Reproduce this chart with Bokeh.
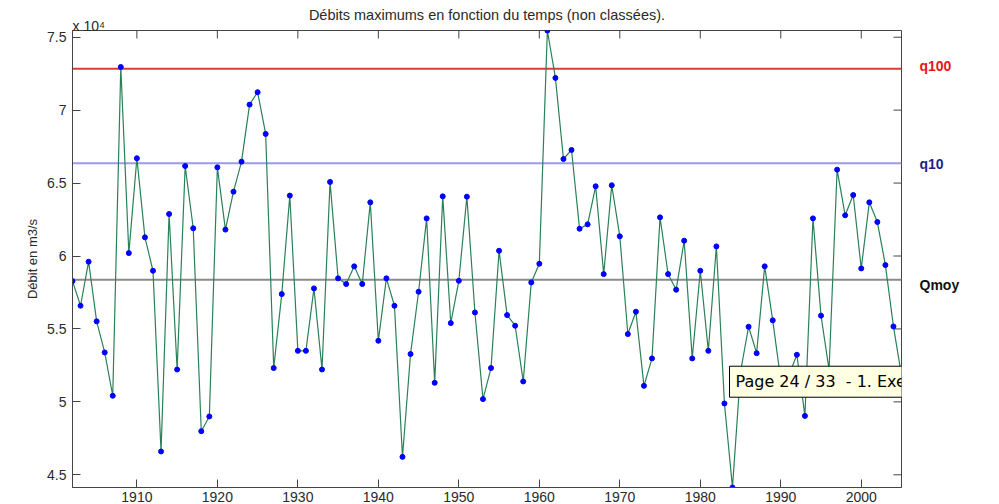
import math
from bokeh.plotting import figure
from bokeh.models import Range1d, FixedTicker, Span, Label, ColumnDataSource
from bokeh.embed import file_html
from bokeh.resources import INLINE

# ---------------- data ----------------
years = list(range(1902, 2006))
debits = [
    58280, 56590, 59610, 55520, 53390, 50420, 72960, 60200, 66700, 61280,  # 1902-1911
    58990, 46600, 62880, 52220, 66170, 61900, 47990, 49000, 66080, 61810,  # 1912-1921
    64410, 66470, 70380, 71230, 68370, 52320, 57390, 64140, 53500, 53500,  # 1922-1931
    57780, 52220, 65080, 58470, 58080, 59290, 58080, 63680, 54190, 58470,  # 1932-1941
    56590, 46230, 53280, 57550, 62580, 51310, 64090, 55400, 58300, 64070,  # 1942-1951
    56130, 50190, 52320, 60360, 55950, 55220, 51400, 58190, 59470, 75460,  # 1952-1961
    72210, 66650, 67270, 61870, 62170, 64780, 58760, 64850, 61350, 54650,  # 1962-1971
    56180, 51100, 52980, 62650, 58760, 57690, 61050, 52980, 58990, 53500,  # 1972-1981
    60660, 49890, 44130, 52060, 55150, 53340, 59290, 55590, 51500, 51800,  # 1982-1991
    53230, 49040, 62580, 55910, 52200, 65920, 62790, 64180, 59150, 63680,  # 1992-2001
    62330, 59380, 55170, 51800,                                            # 2002-2005
]
q100 = 72830
q10 = 66360
qmoy = 58375

x_ticks = [1910, 1920, 1930, 1940, 1950, 1960, 1970, 1980, 1990, 2000]
y_ticks = [45000, 50000, 55000, 60000, 65000, 70000, 75000]
y_tick_labels = ["4.5", "5", "5.5", "6", "6.5", "7", "7.5"]

title_text = "Débits maximums en fonction du temps (non classées)."
y_label_text = "Débit en m3/s"
exp_text = "x 10\u2074"
ref_names = ["q100", "q10", "Qmoy"]
ref_colors = ["#e8141c", "#1f1f8a", "#111111"]
tooltip_text = "Page 24 / 33\u00a0 - 1. Exercice 1: Rec"

# ---------------- styles ----------------
FONT = "Liberation Sans"
AX = "#444444"
TXT = "#2a2a2a"

xmin, xmax = min(years), max(years)
ymin, ymax = min(debits), max(debits)

p = figure(width=999, height=504, output_backend="svg", toolbar_location=None,
           x_range=Range1d(xmin, xmax), y_range=Range1d(ymin, ymax),
           min_border_left=72, min_border_right=98, min_border_top=30,
           min_border_bottom=0)
p.background_fill_color = "white"
p.border_fill_color = "white"
p.outline_line_color = AX
p.outline_line_width = 1
p.xgrid.visible = False
p.ygrid.visible = False

# title (negative standoff lets it share the line of the exponent)
p.title.text = title_text
p.title.align = "center"
p.title.vertical_align = "bottom"
p.title.standoff = -16
p.title.text_font = FONT
p.title.text_font_size = "14.5px"
p.title.text_font_style = "normal"
p.title.text_color = TXT

# bottom axis
xa = p.xaxis[0]
xa.ticker = FixedTicker(ticks=x_ticks)
xa.major_label_text_font = FONT
xa.major_label_text_font_size = "14px"
xa.major_label_text_color = TXT
xa.major_label_standoff = 4
xa.major_tick_in = 8
xa.major_tick_out = 0
xa.minor_tick_in = 0
xa.minor_tick_out = 0
xa.axis_line_color = AX
xa.major_tick_line_color = AX

# left axis
ya = p.yaxis[0]
ya.ticker = FixedTicker(ticks=y_ticks)
ya.major_label_overrides = {t: s for t, s in zip(y_ticks, y_tick_labels)}
ya.major_label_text_font = FONT
ya.major_label_text_font_size = "14px"
ya.major_label_text_color = TXT
ya.major_label_standoff = 6
ya.major_tick_in = 8
ya.major_tick_out = 0
ya.minor_tick_in = 0
ya.minor_tick_out = 0
ya.axis_line_color = AX
ya.major_tick_line_color = AX
ya.axis_label = y_label_text
ya.axis_label_text_font = FONT
ya.axis_label_text_font_size = "13px"
ya.axis_label_text_font_style = "normal"
ya.axis_label_text_color = TXT
ya.axis_label_standoff = 4

# inward ticks on the top and right sides of the box (half-clipped dashes)
p.scatter(x_ticks, [ymax] * len(x_ticks), marker="dash", size=16,
          angle=math.pi / 2, line_color=AX, line_width=1)
p.scatter([xmax] * len(y_ticks), y_ticks, marker="dash", size=16,
          line_color=AX, line_width=1)

# reference lines
p.add_layout(Span(location=q100, dimension="width", line_color="#dd3b3b",
                  line_width=2, level="underlay"))
p.add_layout(Span(location=q10, dimension="width", line_color="#9a9af0",
                  line_width=2, level="underlay"))
p.add_layout(Span(location=qmoy, dimension="width", line_color="#8a8a8a",
                  line_width=2, level="underlay"))

# data
src = ColumnDataSource(dict(x=years, y=debits))
p.line("x", "y", source=src, line_color="#2a8058", line_width=1.2)
p.scatter("x", "y", source=src, size=5, fill_color="#0000ff", line_color="#0000ff")

# exponent (side panel, so it is not clipped to the frame)
p.add_layout(Label(x=xmin, y=ymax, y_offset=5, text=exp_text,
                   text_align="left", text_baseline="alphabetic",
                   text_font=FONT, text_font_size="14px", text_color=TXT), "above")

# reference-line names
for name, loc, col, dy in zip(ref_names, [q100, q10, qmoy], ref_colors, [3, -1, -5]):
    p.add_layout(Label(x=xmax, y=loc, x_offset=18, y_offset=dy, text=name,
                       text_align="left", text_baseline="middle",
                       text_font=FONT, text_font_size="14px",
                       text_font_style="bold", text_color=col), "right")

# pasted tooltip box
p.add_layout(Label(x=1983.63, y=52444, text=tooltip_text,
                   text_align="left", text_baseline="top", text_font="DejaVu Sans",
                   text_font_size="16px", text_color="#000000",
                   background_fill_color="#ffffe1", border_line_color="#000000",
                   border_line_width=1, padding=6))

open("out.html", "w").write(file_html(p, INLINE))
